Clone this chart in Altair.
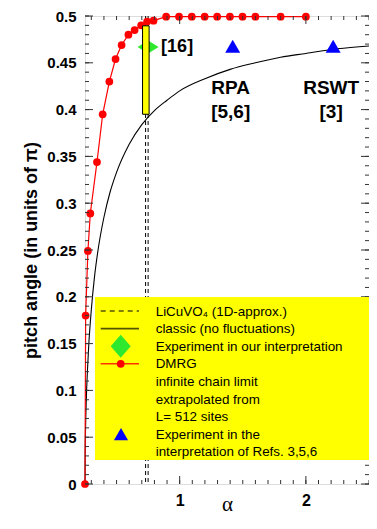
import altair as alt
import pandas as pd

# ---------------- data ----------------
# DMRG (infinite chain limit)
dmrg_alpha = [0.25, 0.255, 0.273, 0.292, 0.345, 0.39, 0.443, 0.492, 0.54, 0.594,
              0.643, 0.695, 0.742, 0.793, 0.893, 0.995, 1.096, 1.198, 1.297,
              1.398, 1.498, 1.6, 1.8, 2.0]
dmrg_pitch = [0.0, 0.180, 0.249, 0.289, 0.344, 0.395, 0.430, 0.454, 0.469, 0.480,
              0.485, 0.490, 0.494, 0.495, 0.4993, 0.4993, 0.4993, 0.4993, 0.4993,
              0.4993, 0.4993, 0.4993, 0.4993, 0.4993]

# classic curve (no fluctuations)
classic_alpha = [0.25, 0.251, 0.255, 0.26, 0.27, 0.28, 0.3, 0.325, 0.35, 0.4, 0.45,
                 0.5, 0.6, 0.7, 0.8, 0.9, 1.0, 1.2, 1.4, 1.6, 1.8, 2.0, 2.25, 2.5]
classic_pitch = [0.0, 0.028, 0.063, 0.089, 0.123, 0.149, 0.186, 0.221, 0.247, 0.285,
                 0.3125, 0.333, 0.363, 0.384, 0.399, 0.410, 0.420, 0.433, 0.443,
                 0.450, 0.456, 0.460, 0.465, 0.468]

# LiCuVO4 (1D approx.) dashed lines
licuvo_alpha = [0.73, 0.75]

# yellow bar
bar_alpha = [0.706, 0.758]
bar_pitch = [0.395, 0.4895]

# experiment in our interpretation
exp_alpha = [0.75]
exp_pitch = [0.4668]
exp_label = ["[16]"]

# experiment in interpretation of Refs. 3,5,6
ref_alpha = [1.42, 2.216]
ref_pitch = [0.4678, 0.4678]
ref_label = ["RPA\n[5,6]", "RSWT\n[3]"]

legend_lines = ["LiCuVO\u2084 (1D-approx.)", "classic (no fluctuations)",
                "Experiment in our interpretation", "DMRG", "infinite chain limit",
                "extrapolated from", "L= 512 sites", "Experiment in the",
                "interpretation of Refs. 3,5,6"]

x_major = [1, 2]
x_minor = [round(0.3 + 0.1 * i, 1) for i in range(23)]
y_major = [round(0.05 * i, 2) for i in range(11)]
y_minor = [round(0.01 * i, 2) for i in range(51)]

# ---------------- layout ----------------
W, H = 284, 468
FONT = "Liberation Sans"

xs = alt.Scale(domain=[0.25, 2.5], nice=False, zero=False)
ys = alt.Scale(domain=[0, 0.5], nice=False, zero=False)
xaxis = alt.Axis(values=x_major, ticks=False, domain=False, grid=False,
                 labelFont=FONT, labelFontSize=16, labelFontWeight="bold",
                 labelColor="black", labelPadding=8, labelFlush=False,
                 title="α", titleFont="Liberation Serif", titleFontSize=21,
                 titleFontWeight="normal", titleColor="black",
                 titleX=W / 2, titleY=26, titleAlign="center",
                 titleBaseline="alphabetic")
yaxis = alt.Axis(values=y_major, ticks=False, domain=False, grid=False,
                 labelFont=FONT, labelFontSize=15, labelFontWeight="bold",
                 labelColor="black", labelPadding=9, labelFlush=False,
                 labelExpr="format(datum.value, '.2~f')",
                 title="pitch angle (in units of π)", titleFont=FONT,
                 titleFontSize=18, titleFontWeight="bold", titleColor="black",
                 titleX=-49, titleY=H / 2, titleAngle=-90, titleAlign="center",
                 titleBaseline="alphabetic")


def X(f):
    return alt.X(f, type="quantitative", scale=xs, axis=xaxis, title="α")


def Y(f):
    return alt.Y(f, type="quantitative", scale=ys, axis=yaxis,
                 title="pitch angle (in units of π)")


one = pd.DataFrame({"k": [0]})

dmrg = pd.DataFrame({"alpha": dmrg_alpha, "pitch": dmrg_pitch})
classic = pd.DataFrame({"alpha": classic_alpha, "pitch": classic_pitch})
dash = pd.DataFrame({"alpha": licuvo_alpha})
bar = pd.DataFrame({"alpha": [bar_alpha[0]], "alpha2": [bar_alpha[1]],
                    "pitch": [bar_pitch[0]], "pitch2": [bar_pitch[1]]})
exp = pd.DataFrame({"alpha": exp_alpha, "pitch": exp_pitch, "label": exp_label})
ref = pd.DataFrame({"alpha": ref_alpha, "pitch": ref_pitch, "label": ref_label})

layers = []

layers.append(alt.Chart(dash).mark_rule(color="black", strokeWidth=1,
                                        strokeDash=[4, 3]).encode(x=X("alpha")))
layers.append(alt.Chart(classic).mark_line(color="black", strokeWidth=1.1,
                                           interpolate="monotone").encode(
    x=X("alpha"), y=Y("pitch")))
layers.append(alt.Chart(dmrg).mark_line(color="#ff0000", strokeWidth=1.2).encode(
    x=X("alpha"), y=Y("pitch")))
layers.append(alt.Chart(dmrg).mark_point(filled=True, color="#ff0000", size=60,
                                         opacity=1, shape="circle").encode(
    x=X("alpha"), y=Y("pitch")))
layers.append(alt.Chart(exp).mark_point(filled=True, color="#2ee82e", size=441,
                                        opacity=1,
                                        shape="M-1,0L0,-0.62L1,0L0,0.62Z").encode(
    x=X("alpha"), y=Y("pitch")))
layers.append(alt.Chart(bar).mark_rect(color="#ffff00", stroke="black",
                                       strokeWidth=1).encode(
    x=X("alpha"), x2=alt.X2("alpha2", title="α"),
    y=Y("pitch"), y2=alt.Y2("pitch2", title="pitch angle (in units of π)")))
layers.append(alt.Chart(ref).mark_point(filled=True, color="#0000ff", size=225,
                                        opacity=1, shape="triangle-up").encode(
    x=X("alpha"), y=Y("pitch")))
layers.append(alt.Chart(exp).mark_text(font=FONT, fontSize=18, fontWeight="bold",
                                       align="left", baseline="middle", dx=13,
                                       color="black").encode(
    x=X("alpha"), y=Y("pitch"), text="label:N"))
layers.append(alt.Chart(ref).mark_text(font=FONT, fontSize=19, fontWeight="bold",
                                       align="center", baseline="alphabetic",
                                       dy=48, dx=-2, lineBreak="\n", lineHeight=24,
                                       color="black").encode(
    x=X("alpha"), y=Y("pitch"), text="label:N"))

# ticks (inward, all four sides)
tick_col = "#333333"
ymaj = pd.DataFrame({"pitch": y_major})
ymin = pd.DataFrame({"pitch": y_minor})
xmaj = pd.DataFrame({"alpha": x_major})
xmin = pd.DataFrame({"alpha": x_minor})
for df, L in ((ymaj, 8), (ymin, 4)):
    layers.append(alt.Chart(df).mark_rule(color=tick_col, strokeWidth=1).encode(
        y=Y("pitch"), x=alt.value(0), x2=alt.value(L)))
    layers.append(alt.Chart(df).mark_rule(color=tick_col, strokeWidth=1).encode(
        y=Y("pitch"), x=alt.value(W - L), x2=alt.value(W)))
for df, L in ((xmaj, 8), (xmin, 4)):
    layers.append(alt.Chart(df).mark_rule(color=tick_col, strokeWidth=1).encode(
        x=X("alpha"), y=alt.value(0), y2=alt.value(L)))
    layers.append(alt.Chart(df).mark_rule(color=tick_col, strokeWidth=1).encode(
        x=X("alpha"), y=alt.value(H - L), y2=alt.value(H)))

# legend box (placed relative to the bottom of the plot)
LX0, LX1, LY0, LY1 = 10, W + 1, H - 187, H - 24
SYM_X0, SYM_X1, SYM_XC = 15.7, 54, 35.7
ROW0, ROWH = H - 173, 17.59
layers.append(alt.Chart(one).mark_rect(color="#ffff00").encode(
    x=alt.value(LX0), x2=alt.value(LX1), y=alt.value(LY0), y2=alt.value(LY1)))
layers.append(alt.Chart(one).mark_rule(color="black", strokeWidth=1.2,
                                       strokeDash=[5, 4]).encode(
    x=alt.value(SYM_X0), x2=alt.value(SYM_X1), y=alt.value(ROW0)))
layers.append(alt.Chart(one).mark_rule(color="#555500", strokeWidth=1.6).encode(
    x=alt.value(SYM_X0), x2=alt.value(SYM_X1), y=alt.value(ROW0 + ROWH)))
layers.append(alt.Chart(one).mark_point(filled=True, color="#2ee82e", size=400,
                                        opacity=1,
                                        shape="M-1,0L0,-1.15L1,0L0,1.15Z").encode(
    x=alt.value(SYM_XC), y=alt.value(ROW0 + 2 * ROWH)))
layers.append(alt.Chart(one).mark_rule(color="#ff3300", strokeWidth=1.6).encode(
    x=alt.value(SYM_X0), x2=alt.value(SYM_X1), y=alt.value(ROW0 + 3 * ROWH)))
layers.append(alt.Chart(one).mark_point(filled=True, color="#ff0000", size=60,
                                        opacity=1, shape="circle").encode(
    x=alt.value(SYM_XC), y=alt.value(ROW0 + 3 * ROWH)))
layers.append(alt.Chart(one).mark_point(filled=True, color="#0000ff", size=200,
                                        opacity=1, shape="triangle-up").encode(
    x=alt.value(SYM_XC + 0.3), y=alt.value(ROW0 + 7 * ROWH)))
layers.append(alt.Chart(one).mark_text(font=FONT, fontSize=13.4, align="left",
                                       baseline="alphabetic", lineHeight=ROWH,
                                       color="black").encode(
    x=alt.value(70.7), y=alt.value(ROW0 + 4.7), text=alt.value(legend_lines)))

chart = alt.layer(*layers).properties(
    width=W, height=H,
    autosize=alt.AutoSizeParams(type="none"),
    padding={"left": 77, "top": 8, "right": 0, "bottom": 32},
).configure_view(stroke="#222222", strokeWidth=1.2).configure(background="white")

chart.save("out.html", embed_options={"renderer": "svg", "actions": False})
